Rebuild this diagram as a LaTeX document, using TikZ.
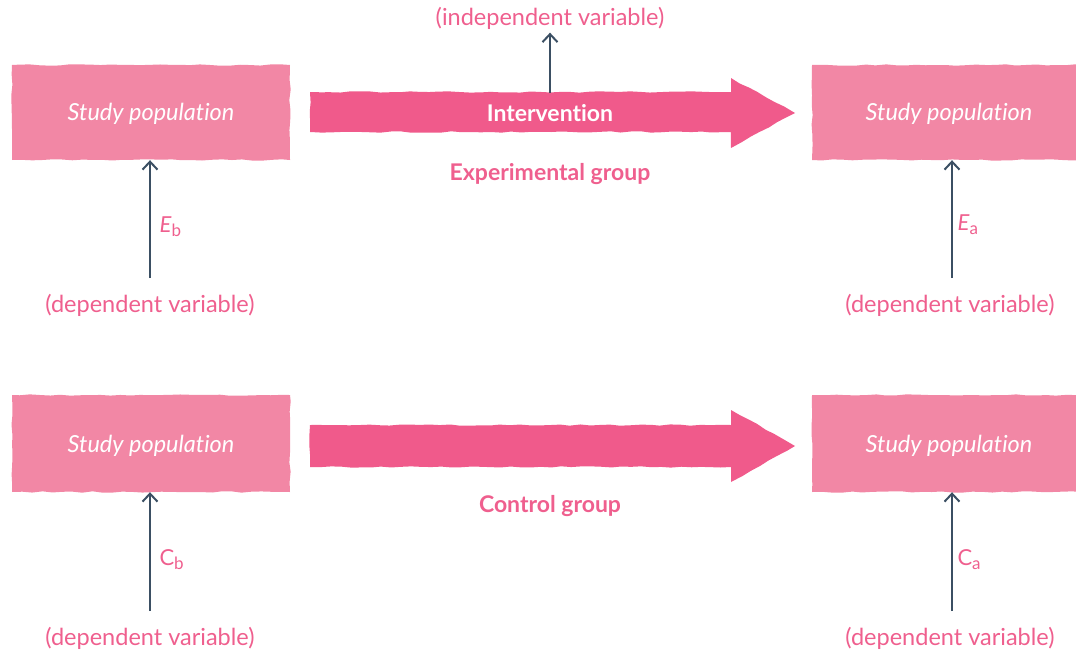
\documentclass[tikz,border=0pt]{standalone}
\usepackage{fontspec}
\setmainfont{Lato}[Ligatures={NoCommon}]
\usetikzlibrary{arrows.meta,decorations.pathmorphing}
\definecolor{boxpink}{HTML}{F287A5}
\definecolor{arrowpink}{HTML}{F05A8B}
\definecolor{textpink}{HTML}{EF5F8E}
\definecolor{slate}{HTML}{3B4F63}
\tikzset{
  x=1pt, y=-1pt,
  popbox/.style={fill=boxpink, minimum height=95pt, inner sep=0pt,
    decorate, decoration={random steps, segment length=10pt, amplitude=0.7pt},
    text=white, font=\fontsize{23.5}{28}\selectfont\itshape},
  bigarrow/.style={fill=arrowpink, decorate,
    decoration={random steps, segment length=10pt, amplitude=0.7pt}},
  varlabel/.style={text=textpink, font=\fontsize{23.5}{28}\selectfont},
  grouplabel/.style={text=textpink, font=\fontsize{23}{28}\selectfont\bfseries},
  symlabel/.style={text=textpink, font=\fontsize{22}{26}\selectfont, anchor=west},
  measure/.style={draw=slate, line width=2pt,
    -{Straight Barb[length=8pt,width=15pt,line width=2pt]}},
}
\newcommand{\sublow}[1]{\raisebox{-4pt}{\fontsize{17}{17}\selectfont\upshape #1}}
\begin{document}
\begin{tikzpicture}
\useasboundingbox (0,0) rectangle (1076,653);
\pgfmathsetseed{7}

% study population boxes (text sits slightly below centre)
\node (eb) [popbox, minimum width=278pt] at (151,112.5) {};
\node (ea) [popbox, minimum width=274pt] at (949,112.5) {};
\node (cb) [popbox, minimum width=278pt, minimum height=97pt] at (151,443.5) {};
\node (ca) [popbox, minimum width=274pt, minimum height=97pt] at (949,443.5) {};
\foreach \b/\x/\y in {eb/151/114, ea/949/114, cb/151/446, ca/949/446}
  \node (\b-txt) [text=white, font=\fontsize{23.5}{28}\selectfont\itshape] at (\x,\y) {Study population};

% broad arrows between the populations
\fill[bigarrow] (310,92) -- (731,92) -- (731,78) -- (795,113) -- (731,148)
  -- (731,132) -- (310,132) -- cycle;
\fill[bigarrow] (310,425) -- (731,425) -- (731,410) -- (795,446) -- (731,482)
  -- (731,467) -- (310,467) -- cycle;
\node (interv) [text=white, font=\fontsize{23}{28}\selectfont\bfseries] at (550,113) {Intervention};
\node (expg) [grouplabel] at (550,174) {Experimental group};
\node (ctrlg) [grouplabel] at (550,506) {Control group};

% independent variable
\node (indep) [varlabel] at (550,18) {(independent variable)};
\coordinate (ivstart) at (550,93);
\draw[measure] (ivstart) -- (indep.south);

% dependent variable measurements
\node (deb) [varlabel] at (150,305) {(dependent variable)};
\node (dea) [varlabel] at (950,305) {(dependent variable)};
\node (dcb) [varlabel] at (150,638) {(dependent variable)};
\node (dca) [varlabel] at (950,638) {(dependent variable)};

\coordinate (mEb) at (150,278);
\coordinate (mEa) at (952,278);
\coordinate (mCb) at (150,611);
\coordinate (mCa) at (952,611);
\draw[measure] (mEb) -- (mEb |- eb.south);
\draw[measure] (mEa) -- (mEa |- ea.south);
\draw[measure] (mCb) -- (mCb |- cb.south);
\draw[measure] (mCa) -- (mCa |- ca.south);

\node (lEb) [symlabel] at (156,227) {\textit{E}\sublow{b}};
\node (lEa) [symlabel] at (954,225) {\textit{E}\sublow{a}};
\node (lCb) [symlabel] at (156,560) {C\sublow{b}};
\node (lCa) [symlabel] at (954,560) {C\sublow{a}};
\end{tikzpicture}
\end{document}
